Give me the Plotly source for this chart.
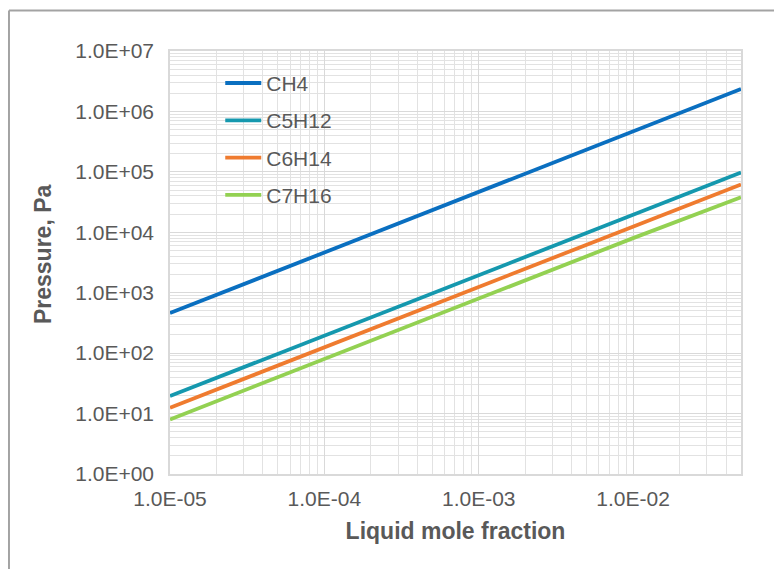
import plotly.graph_objects as go
import numpy as np

# Data
x_frac = [1e-5, 1e-4, 1e-3, 1e-2, 5e-2]
p_ch4 = [4.6e2, 4.6e3, 4.6e4, 4.6e5, 2.35e6]
p_c5h12 = [19.5, 195, 1950, 19500, 97500]
p_c6h14 = [12.5, 125, 1250, 12500, 62000]
p_c7h16 = [8.0, 80, 800, 8000, 38000]

series_names = ["CH4", "C5H12", "C6H14", "C7H16"]
series_vals = [p_ch4, p_c5h12, p_c6h14, p_c7h16]
series_colors = ["#0a6fc0", "#1598ae", "#ef7b2f", "#93d152"]

x_tickvals = [1e-5, 1e-4, 1e-3, 1e-2]
x_ticktext = ["1.0E-05", "1.0E-04", "1.0E-03", "1.0E-02"]
y_tickvals = [1e0, 1e1, 1e2, 1e3, 1e4, 1e5, 1e6, 1e7]
y_ticktext = ["1.0E+00", "1.0E+01", "1.0E+02", "1.0E+03",
              "1.0E+04", "1.0E+05", "1.0E+06", "1.0E+07"]

x_minor = [m * 10.0 ** e for e in range(-5, -1) for m in range(2, 10) if m * 10.0 ** e <= 0.05]
y_minor = [m * 10.0 ** e for e in range(0, 7) for m in range(2, 10)]

FONT = "Liberation Sans, Arial, sans-serif"
GRAY = "#595959"
FRAME = dict(color="#a3a3a3", width=2)

fig = go.Figure()
for name, vals, col in zip(series_names, series_vals, series_colors):
    fig.add_trace(go.Scatter(x=x_frac, y=vals, mode="lines", name=name,
                             legendgroup=name,
                             line=dict(color=col, width=3.8)))

fig.update_layout(
    width=782, height=569,
    margin=dict(l=162, r=49, t=43, b=103),
    paper_bgcolor="white", plot_bgcolor="white",
    font=dict(family=FONT, color=GRAY, size=20),
    showlegend=True,
    legend=dict(x=0.088, y=0.972, xanchor="left", yanchor="top",
                bgcolor="rgba(0,0,0,0)", font=dict(size=21, color=GRAY),
                traceorder="grouped", tracegroupgap=7, itemwidth=36),
    shapes=[
        dict(type="line", xref="paper", yref="paper",
             x0=-0.2820, x1=-0.2820, y0=-0.5, y1=1.0957, line=FRAME, layer="below"),
        dict(type="line", xref="paper", yref="paper",
             x0=-0.2820, x1=1.3, y0=1.0957, y1=1.0957, line=FRAME, layer="below"),
    ],
    annotations=[dict(text="<b>Pressure, Pa</b>", textangle=-90,
                      xref="paper", yref="paper", x=-0.2224, y=0.520,
                      xanchor="center", yanchor="middle", showarrow=False,
                      font=dict(size=23, color=GRAY))],
)

fig.update_xaxes(
    type="log", range=[-5, np.log10(0.05)],
    tickvals=x_tickvals, ticktext=x_ticktext,
    tickfont=dict(size=21, color=GRAY), ticks="", ticklabelstandoff=5,
    showgrid=True, gridcolor="#d9d9d9", gridwidth=1,
    minor=dict(tickvals=x_minor, showgrid=True, gridcolor="#e2e2e2", gridwidth=1, ticks=""),
    showline=True, linecolor="#d9d9d9", linewidth=1.5, mirror=True,
    zeroline=False,
    title=dict(text="<b>Liquid mole fraction</b>", font=dict(size=23, color=GRAY), standoff=14),
)
fig.update_yaxes(
    type="log", range=[0, 7],
    tickvals=y_tickvals, ticktext=y_ticktext,
    tickfont=dict(size=21, color=GRAY), ticks="", ticklabelstandoff=10,
    showgrid=True, gridcolor="#d9d9d9", gridwidth=1,
    minor=dict(tickvals=y_minor, showgrid=True, gridcolor="#e2e2e2", gridwidth=1, ticks=""),
    showline=True, linecolor="#d9d9d9", linewidth=1.5, mirror=True,
    zeroline=False,
)

fig.write_html("out.html")
